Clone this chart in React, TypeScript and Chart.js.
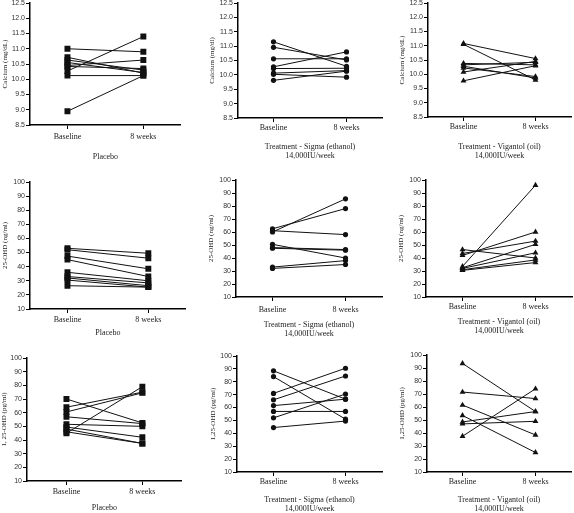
import { useEffect, useRef } from 'react';
import { Chart, registerables } from 'chart.js';

Chart.register(...registerables);

// ---------- data ----------
const timepoints = ['Baseline', '8 weeks'];

const placeboTitle = 'Placebo';
const sigmaTitle = ['Treatment - Sigma (ethanol)', '14,000IU/week'];
const vigantolTitle = ['Treatment - Vigantol (oil)', '14,000IU/week'];

// Calcium (mg/dL)
const calciumPlaceboBaseline = [11.0, 8.95, 10.27, 10.45, 10.12, 10.72, 10.63, 10.55, 10.42];
const calciumPlaceboWeek8 = [10.9, 10.12, 11.4, 10.63, 10.12, 10.2, 10.3, 10.22, 10.35];
const calciumSigmaBaseline = [11.15, 10.96, 10.56, 10.28, 10.22, 10.06, 10.02, 9.81];
const calciumSigmaWeek8 = [10.3, 10.52, 10.56, 10.8, 10.23, 10.15, 9.92, 10.13];
const calciumVigantolBaseline = [11.08, 11.05, 10.38, 10.33, 10.28, 10.22, 10.08, 9.77];
const calciumVigantolWeek8 = [10.55, 9.8, 10.33, 10.42, 9.87, 9.92, 10.45, 10.3];

// 25-OHD (ng/ml)
const ohd25PlaceboBaseline = [53, 52, 47.5, 45, 36, 33, 32, 30.5, 26.5];
const ohd25PlaceboWeek8 = [49.5, 46, 38.5, 33, 30, 28.5, 26.5, 25.5, 25.5];
const ohd25SigmaBaseline = [60, 62.5, 61, 50.5, 48, 47.5, 33, 32];
const ohd25SigmaWeek8 = [85.5, 78, 58, 40, 46.5, 46, 38, 35];
const ohd25VigantolBaseline = [33.5, 42, 43.5, 46.5, 32.5, 32, 31, 30.5];
const ohd25VigantolWeek8 = [96, 60, 53, 40, 50.5, 44, 38.5, 36.5];

// 1,25-OHD (pg/ml)
const ohd125PlaceboBaseline = [70, 64, 60.5, 57, 51.5, 49.5, 48, 46, 45];
const ohd125PlaceboWeek8 = [52.5, 75, 74.5, 52, 50, 42, 37.5, 37.5, 79];
const ohd125SigmaBaseline = [88.5, 84, 71, 66, 61.5, 57, 52, 44.5];
const ohd125SigmaWeek8 = [66.5, 51, 90.5, 84.5, 66.5, 57, 70.5, 49.5];
const ohd125VigantolBaseline = [93.5, 71.5, 61.5, 53.5, 48.5, 47, 37.5];
const ohd125VigantolWeek8 = [56.5, 66.5, 38.5, 25, 56.5, 49, 74];

const calciumRange = { min: 8.5, max: 12.5, step: 0.5, decimals: 1 };
const ohdRange = { min: 10, max: 100, step: 10, decimals: 0 };

// ---------- layout ----------
type PanelDef = {
  base: number[]; wk: number[]; ytitle: string; xtitle: string | string[];
  range: { min: number; max: number; step: number; decimals: number };
  marker: 'rect' | 'circle' | 'triangle';
  L: number; T: number; B: number; t0: number; t1: number; xh: number; lp: number; ytx: number;
};

const panels: PanelDef[] = [
  { base: calciumPlaceboBaseline, wk: calciumPlaceboWeek8, ytitle: 'Calcium (mg/dL)', xtitle: placeboTitle, range: calciumRange, marker: 'rect', L: 30, T: 3, B: 125, t0: 68, t1: 145, xh: 36, lp: 3, ytx: 5 },
  { base: calciumSigmaBaseline, wk: calciumSigmaWeek8, ytitle: 'Calcium (mg/dl)', xtitle: sigmaTitle, range: calciumRange, marker: 'circle', L: 238, T: 3, B: 118, t0: 274, t1: 348, xh: 42, lp: 1, ytx: 212 },
  { base: calciumVigantolBaseline, wk: calciumVigantolWeek8, ytitle: 'Calcium (mg/dL)', xtitle: vigantolTitle, range: calciumRange, marker: 'triangle', L: 428, T: 3, B: 117, t0: 464, t1: 537, xh: 43, lp: 1, ytx: 402 },
  { base: ohd25PlaceboBaseline, wk: ohd25PlaceboWeek8, ytitle: '25-OHD (ng/ml)', xtitle: placeboTitle, range: ohdRange, marker: 'rect', L: 30, T: 182, B: 309, t0: 68, t1: 150, xh: 28, lp: 2, ytx: 5 },
  { base: ohd25SigmaBaseline, wk: ohd25SigmaWeek8, ytitle: '25-OHD (ng/ml)', xtitle: sigmaTitle, range: ohdRange, marker: 'circle', L: 236, T: 180, B: 297, t0: 273, t1: 347, xh: 41, lp: 4, ytx: 211.5 },
  { base: ohd25VigantolBaseline, wk: ohd25VigantolWeek8, ytitle: '25-OHD (ng/ml)', xtitle: vigantolTitle, range: ohdRange, marker: 'triangle', L: 426, T: 180, B: 297, t0: 463, t1: 537, xh: 38, lp: 1, ytx: 401.5 },
  { base: ohd125PlaceboBaseline, wk: ohd125PlaceboWeek8, ytitle: '1, 25-OHD (pg/ml)', xtitle: placeboTitle, range: ohdRange, marker: 'rect', L: 27, T: 358, B: 481, t0: 67, t1: 144, xh: 31, lp: 2, ytx: 4.5 },
  { base: ohd125SigmaBaseline, wk: ohd125SigmaWeek8, ytitle: '1,25-OHD (pg/ml)', xtitle: sigmaTitle, range: ohdRange, marker: 'circle', L: 237, T: 356, B: 472, t0: 274, t1: 347, xh: 41, lp: 1, ytx: 213 },
  { base: ohd125VigantolBaseline, wk: ohd125VigantolWeek8, ytitle: '1,25-OHD (pg/ml)', xtitle: vigantolTitle, range: ohdRange, marker: 'triangle', L: 427, T: 355, B: 472, t0: 463, t1: 537, xh: 41, lp: 1, ytx: 402.5 },
];

const SERIF = '"Liberation Serif", "Times New Roman", serif';
const SANS = '"Liberation Sans", Arial, sans-serif';
const YW = 30;
const PAD_TOP = 5;
const PAD_RIGHT = 2;
const YTITLE_SIZE = 7;
const YTITLE_LH = 1.2;

function Panel({ p }: { p: PanelDef }) {
  const ref = useRef<HTMLCanvasElement>(null);
  const gapPx = p.t0 - p.L;
  const R = p.t1 + gapPx;
  const width = YW + (R - p.L) + PAD_RIGHT;
  const height = PAD_TOP + (p.B - p.T) + p.xh;
  const left = p.L - YW;
  const top = p.T - PAD_TOP;

  useEffect(() => {
    if (!ref.current) return;
    const gap = gapPx / (p.t1 - p.t0);
    const radius = p.marker === 'rect' ? 4.2 : p.marker === 'circle' ? 2.6 : 3.4;
    const ytPad = Math.max(0, p.ytx - left - (YTITLE_SIZE * YTITLE_LH) / 2);
    const chart = new Chart(ref.current, {
      type: 'line',
      data: {
        datasets: p.base.map((b, i) => ({
          data: [{ x: 0, y: b }, { x: 1, y: p.wk[i] }],
          borderColor: '#111',
          borderWidth: 1,
          pointStyle: p.marker,
          pointRadius: radius,
          pointBackgroundColor: '#111',
          pointBorderColor: '#111',
          pointBorderWidth: 0,
          fill: false,
        })),
      },
      options: {
        responsive: false,
        animation: false,
        events: [],
        layout: { padding: { top: PAD_TOP, right: PAD_RIGHT, left: 0, bottom: 0 } },
        plugins: { legend: { display: false }, tooltip: { enabled: false } },
        scales: {
          x: {
            type: 'linear',
            bounds: 'data',
            min: -gap,
            max: 1 + gap,
            afterBuildTicks: (s: any) => { s.ticks = [{ value: 0 }, { value: 1 }]; },
            afterFit: (s: any) => { s.height = p.xh; s.paddingLeft = 0; s.paddingRight = 0; },
            ticks: {
              callback: (v: any) => timepoints[Math.round(Number(v))],
              font: { family: SERIF, size: 8 },
              color: '#222',
              padding: p.lp,
              maxRotation: 0,
              autoSkip: false,
            },
            grid: { drawOnChartArea: false, drawTicks: true, tickLength: 4, color: '#000', lineWidth: 1 },
            border: { color: '#000', width: 1.5 },
            title: {
              display: true,
              text: p.xtitle,
              font: { family: SERIF, size: 8, lineHeight: 1.1 },
              color: '#222',
              padding: { top: 0, bottom: 0 },
            },
          },
          y: {
            type: 'linear',
            min: p.range.min,
            max: p.range.max,
            afterFit: (s: any) => { s.width = YW; s.paddingTop = 0; s.paddingBottom = 0; },
            ticks: {
              stepSize: p.range.step,
              callback: (v: any) => Number(v).toFixed(p.range.decimals),
              font: { family: SANS, size: 7 },
              color: '#333',
              padding: 1,
            },
            grid: { drawOnChartArea: false, drawTicks: true, tickLength: 4, color: '#000', lineWidth: 1 },
            border: { color: '#000', width: 1.5 },
            title: {
              display: true,
              text: p.ytitle,
              font: { family: SERIF, size: YTITLE_SIZE, lineHeight: YTITLE_LH },
              color: '#222',
              padding: { top: ytPad, bottom: 0 },
            },
          },
        },
      } as any,
    });
    return () => chart.destroy();
  }, [p]);

  return (
    <canvas
      ref={ref}
      width={width}
      height={height}
      style={{ position: 'absolute', left, top, width, height }}
    />
  );
}

export default function App() {
  return (
    <div style={{ position: 'absolute', left: 0, top: 0, width: 574, height: 513, overflow: 'hidden', background: '#fff' }}>
      {panels.map((p, i) => <Panel key={i} p={p} />)}
    </div>
  );
}
